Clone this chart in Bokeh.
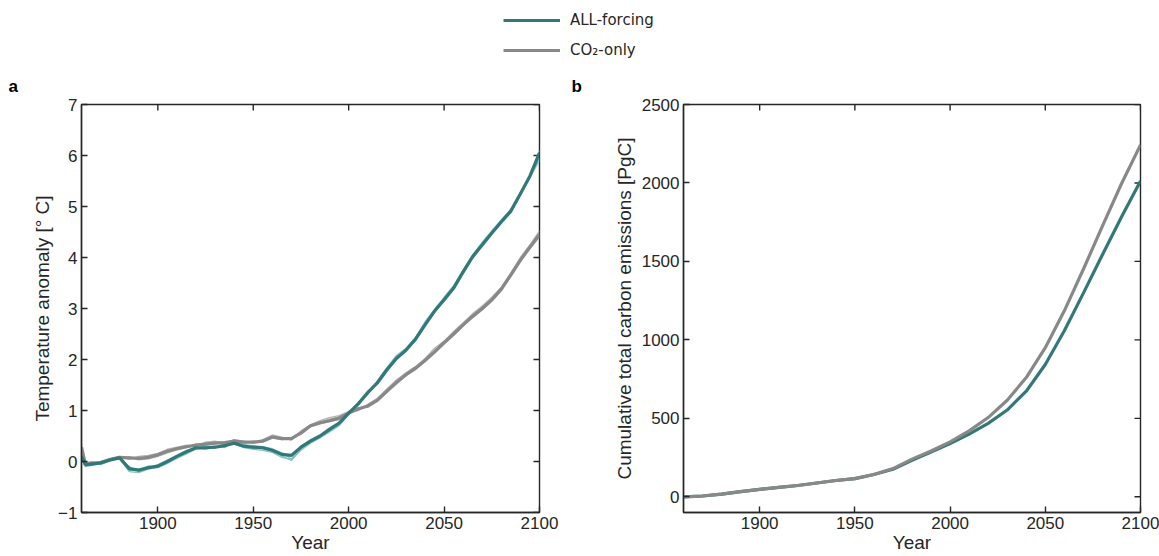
import math
from bokeh.plotting import figure
from bokeh.models import Range1d, FixedTicker, Legend, LegendItem, Label
from bokeh.layouts import column, row
from bokeh.embed import file_html
from bokeh.resources import INLINE

# ---------------- data ----------------
years = [1860, 1862, 1865, 1870, 1875, 1880, 1885, 1890, 1895, 1900, 1905, 1910, 1915, 1920,
         1925, 1930, 1935, 1940, 1945, 1950, 1955, 1960, 1965, 1970, 1975, 1980, 1985, 1990,
         1995, 2000, 2005, 2010, 2015, 2020, 2025, 2030, 2035, 2040, 2045, 2050, 2055, 2060,
         2065, 2070, 2075, 2080, 2085, 2090, 2095, 2100]

# ALL-forcing temperature anomaly: ensemble mean and members
all_mean = [0.10, -0.06, -0.05, -0.03, 0.03, 0.07, -0.14, -0.17, -0.12, -0.09, 0.00, 0.10, 0.19, 0.27,
            0.27, 0.28, 0.31, 0.36, 0.30, 0.28, 0.27, 0.22, 0.14, 0.12, 0.28, 0.40, 0.50, 0.63,
            0.75, 0.95, 1.13, 1.35, 1.54, 1.80, 2.02, 2.18, 2.40, 2.68, 2.95, 3.17, 3.40, 3.72,
            4.02, 4.25, 4.48, 4.70, 4.91, 5.25, 5.60, 6.05]
all_m1 = [0.05, -0.10, -0.08, -0.02, 0.05, 0.05, -0.20, -0.22, -0.15, -0.12, -0.04, 0.06, 0.15, 0.24,
          0.25, 0.30, 0.27, 0.40, 0.27, 0.24, 0.22, 0.18, 0.08, 0.04, 0.22, 0.36, 0.46, 0.58,
          0.70, 0.92, 1.15, 1.33, 1.58, 1.84, 2.08, 2.22, 2.43, 2.74, 2.98, 3.22, 3.45, 3.76,
          4.05, 4.30, 4.52, 4.74, 4.95, 5.28, 5.58, 5.95]
all_m2 = [0.12, -0.04, -0.07, -0.05, 0.01, 0.09, -0.18, -0.15, -0.14, -0.06, 0.03, 0.12, 0.22, 0.25,
          0.30, 0.26, 0.34, 0.38, 0.33, 0.31, 0.29, 0.25, 0.17, 0.05, 0.30, 0.43, 0.52, 0.66,
          0.78, 0.98, 1.10, 1.38, 1.52, 1.76, 2.00, 2.20, 2.36, 2.65, 2.92, 3.14, 3.37, 3.68,
          3.98, 4.22, 4.45, 4.67, 4.88, 5.22, 5.62, 6.10]
all_m3 = [0.08, -0.08, -0.02, -0.06, 0.02, 0.06, -0.10, -0.20, -0.09, -0.11, -0.02, 0.08, 0.17, 0.28,
          0.24, 0.29, 0.33, 0.34, 0.28, 0.26, 0.25, 0.20, 0.11, 0.02, 0.25, 0.38, 0.49, 0.61,
          0.73, 0.93, 1.16, 1.32, 1.57, 1.82, 2.05, 2.16, 2.42, 2.70, 2.97, 3.19, 3.43, 3.70,
          4.04, 4.27, 4.50, 4.72, 4.93, 5.27, 5.57, 5.90]

# CO2-only temperature anomaly: ensemble mean and members
co2_mean = [0.28, -0.04, -0.03, -0.02, 0.04, 0.08, 0.07, 0.06, 0.08, 0.13, 0.20, 0.25, 0.29, 0.32,
            0.34, 0.36, 0.37, 0.40, 0.38, 0.38, 0.40, 0.48, 0.45, 0.45, 0.56, 0.70, 0.76, 0.80,
            0.85, 0.95, 1.03, 1.09, 1.20, 1.38, 1.55, 1.70, 1.83, 1.98, 2.15, 2.33, 2.50, 2.68,
            2.85, 3.00, 3.17, 3.38, 3.66, 3.95, 4.20, 4.45]
co2_m1 = [0.30, -0.06, -0.05, 0.00, 0.06, 0.10, 0.04, 0.10, 0.12, 0.16, 0.24, 0.28, 0.32, 0.30,
          0.38, 0.40, 0.35, 0.43, 0.40, 0.36, 0.43, 0.52, 0.48, 0.42, 0.60, 0.72, 0.80, 0.86,
          0.90, 0.98, 1.00, 1.12, 1.24, 1.42, 1.60, 1.74, 1.86, 2.02, 2.22, 2.36, 2.55, 2.72,
          2.90, 3.05, 3.22, 3.42, 3.70, 4.00, 4.25, 4.52]
co2_m2 = [0.25, -0.02, -0.04, -0.03, 0.02, 0.07, 0.09, 0.03, 0.05, 0.10, 0.17, 0.23, 0.27, 0.34,
          0.32, 0.35, 0.39, 0.38, 0.36, 0.40, 0.38, 0.46, 0.43, 0.47, 0.53, 0.68, 0.74, 0.78,
          0.82, 0.93, 1.06, 1.06, 1.18, 1.35, 1.52, 1.68, 1.80, 1.96, 2.12, 2.30, 2.47, 2.66,
          2.82, 2.97, 3.14, 3.35, 3.63, 3.92, 4.18, 4.40]
co2_m3 = [0.27, -0.05, -0.01, -0.04, 0.05, 0.09, 0.06, 0.08, 0.06, 0.14, 0.21, 0.26, 0.30, 0.31,
          0.36, 0.37, 0.36, 0.42, 0.39, 0.37, 0.41, 0.49, 0.46, 0.44, 0.57, 0.71, 0.77, 0.83,
          0.87, 0.96, 1.02, 1.10, 1.22, 1.39, 1.57, 1.72, 1.84, 2.00, 2.18, 2.34, 2.52, 2.70,
          2.87, 3.02, 3.19, 3.40, 3.68, 3.97, 4.23, 4.48]

# Cumulative total carbon emissions [PgC]
years_b = [1860, 1870, 1880, 1890, 1900, 1910, 1920, 1930, 1940, 1950, 1960, 1970, 1980,
           1990, 2000, 2010, 2020, 2030, 2040, 2050, 2060, 2070, 2080, 2090, 2100]
emis_all = [0, 5, 17, 33, 47, 60, 72, 88, 104, 116, 142, 176, 232, 286, 340, 400, 468, 553,
            673, 843, 1058, 1298, 1543, 1783, 2012]
emis_co2 = [0, 5, 17, 33, 47, 60, 72, 88, 104, 116, 142, 180, 240, 292, 350, 420, 505, 615,
            760, 950, 1185, 1450, 1725, 1995, 2243]

x_ticks = [1900, 1950, 2000, 2050, 2100]
y_ticks_a = [-1, 0, 1, 2, 3, 4, 5, 6, 7]
y_ticks_b = [0, 500, 1000, 1500, 2000, 2500]

series_names = ["ALL-forcing", "CO\u2082-only"]

# ---------------- style ----------------
TEAL = "#337878"
TEAL_THIN = "#78c0c0"
GRAY = "#888888"
GRAY_THIN = "#aaaaaa"
INK = "#262626"
FONT = "Liberation Sans"


def style_axis(ax, label_standoff=2):
    ax.axis_line_color = INK
    ax.axis_line_width = 1.4
    ax.major_tick_line_color = INK
    ax.major_tick_line_width = 1.4
    ax.major_tick_in = 6
    ax.major_tick_out = 0
    ax.minor_tick_line_color = None
    ax.major_label_text_font = FONT
    ax.major_label_text_font_size = "17px"
    ax.major_label_text_color = INK
    ax.major_label_standoff = 4
    ax.axis_label_text_font = FONT
    ax.axis_label_text_font_size = "19px"
    ax.axis_label_text_font_style = "normal"
    ax.axis_label_text_color = INK
    ax.axis_label_standoff = label_standoff


def make_panel(width, left, right, x0, x1, y0, y1, yticks, ylabel, ystand):
    p = figure(width=width, height=460, x_range=Range1d(x0, x1), y_range=Range1d(y0, y1),
               output_backend="svg", toolbar_location=None,
               min_border_left=left, min_border_right=right,
               min_border_top=8, min_border_bottom=44)
    p.xgrid.visible = False
    p.ygrid.visible = False
    p.outline_line_color = INK
    p.outline_line_width = 1.4
    p.background_fill_color = "white"
    p.border_fill_color = "white"
    p.xaxis.ticker = FixedTicker(ticks=x_ticks)
    p.yaxis.ticker = FixedTicker(ticks=yticks)
    p.xaxis.axis_label = "Year"
    p.yaxis.axis_label = ylabel
    style_axis(p.xaxis[0], 0)
    style_axis(p.yaxis[0], ystand)
    # inward ticks on the top and right edges of the box
    p.ray(x=x_ticks, y=[y1] * len(x_ticks), length=6, length_units="screen",
          angle=-math.pi / 2, line_color=INK, line_width=1.4)
    p.ray(x=[x1] * len(yticks), y=yticks, length=6, length_units="screen",
          angle=math.pi, line_color=INK, line_width=1.4)
    return p


# ---------------- panel a ----------------
pa = make_panel(580, 81, 41, 1860, 2100, -1, 7, y_ticks_a, "Temperature anomaly [\u00b0 C]", 2)
for m in (all_m1, all_m2, all_m3):
    pa.line(years, m, line_color=TEAL_THIN, line_width=1.3, line_alpha=0.9)
for m in (co2_m1, co2_m2, co2_m3):
    pa.line(years, m, line_color=GRAY_THIN, line_width=1.3, line_alpha=0.9)
pa.line(years, co2_mean, line_color=GRAY, line_width=3.2)
pa.line(years, all_mean, line_color=TEAL, line_width=3.2)

# ---------------- panel b ----------------
pb = make_panel(579, 103, 19, 1860, 2100, -100, 2500, y_ticks_b,
                "Cumulative total carbon emissions [PgC]", 4)
pb.line(years_b, emis_all, line_color=TEAL, line_width=3.2)
pb.line(years_b, emis_co2, line_color=GRAY, line_width=3.2)

# ---------------- legend strip ----------------
pt = figure(width=1159, height=96, x_range=Range1d(0, 1159), y_range=Range1d(0, 96),
            output_backend="svg", toolbar_location=None,
            x_axis_location=None, y_axis_location=None,
            min_border_left=0, min_border_right=0, min_border_top=0, min_border_bottom=0)
pt.xgrid.visible = False
pt.ygrid.visible = False
pt.outline_line_color = None
# legend proxies kept outside the visible range
r1 = pt.line(x=[-200, -150], y=[-200, -200], line_color=TEAL, line_width=3.2)
r2 = pt.line(x=[-200, -150], y=[-200, -200], line_color=GRAY, line_width=3.2)
leg = Legend(items=[LegendItem(label=series_names[0], renderers=[r1]),
                    LegendItem(label=series_names[1], renderers=[r2])],
             location=(503, 36), padding=0, margin=0, spacing=10,
             glyph_width=57, glyph_height=20, label_height=20, label_standoff=10,
             label_text_font="DejaVu Sans", label_text_font_size="15px",
             label_text_color=INK, border_line_color=None, background_fill_alpha=0)
pt.add_layout(leg)
pt.add_layout(Label(x=8, y=1, text="a", text_font=FONT, text_font_style="bold",
                    text_font_size="17px", text_color="black"))
pt.add_layout(Label(x=571, y=1, text="b", text_font=FONT, text_font_style="bold",
                    text_font_size="17px", text_color="black"))

layout = column(pt, row(pa, pb, spacing=0), spacing=0)
open("out.html", "w").write(file_html(layout, INLINE))
